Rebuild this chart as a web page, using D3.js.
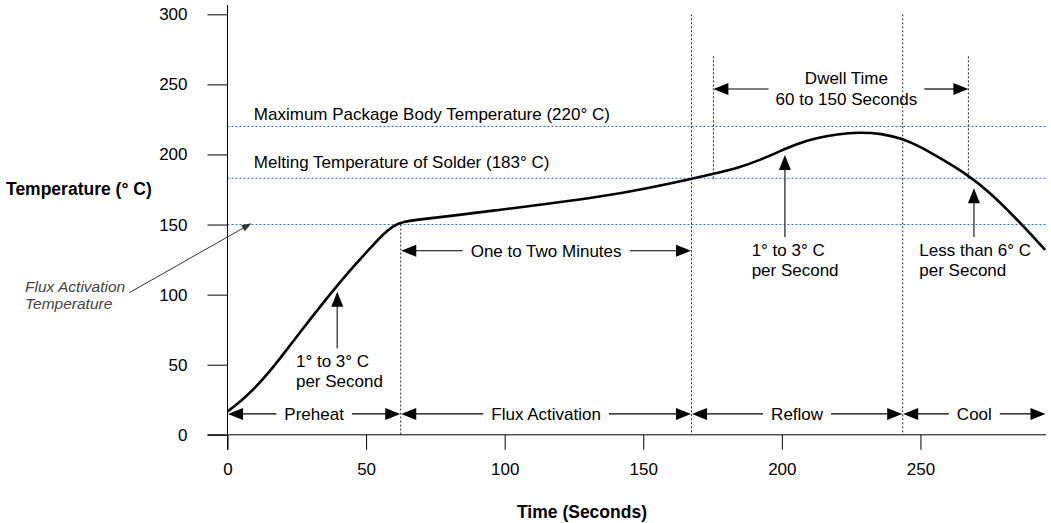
<!DOCTYPE html>
<html><head><meta charset="utf-8">
<script src="https://cdn.jsdelivr.net/npm/d3@7"></script>
<style>
body{margin:0;background:#fff}
svg{display:block}
text{font-family:"Liberation Sans",Arial,Helvetica,sans-serif;fill:#000}
</style>
</head><body>
<svg id="chart" width="1051" height="523"></svg>
<script>
// ---------- data ----------
const timeSec = [0, 5, 10, 15, 20, 27, 33, 40, 46, 52, 56, 60, 63, 70, 80, 98, 115, 135, 150, 167, 175, 185, 192, 199, 205, 212, 220, 228, 236, 243, 250, 258, 267, 275, 284, 295];
const tempC   = [16.6, 24.3, 33.5, 44.6, 57.2, 75.3, 90.4, 107.5, 121.3, 134.2, 143, 149.3, 152, 153.8, 156, 160.5, 164.6, 170, 175.3, 182.4, 186.0, 190.8, 196, 202, 207.3, 211.6, 214.6, 215.8, 214.9, 211.6, 205.6, 196.3, 185.6, 173, 155.5, 132];
const xTickValues = [0, 50, 100, 150, 200, 250];
const yTickValues = [0, 50, 100, 150, 200, 250, 300];
const refTemps  = [220, 183, 150];
const refLabels = ["Maximum Package Body Temperature (220° C)", "Melting Temperature of Solder (183° C)", ""];
const phaseBounds = [0, 62.5, 167.4, 243.6, 295.3];
const phaseNames  = ["Preheat", "Flux Activation", "Reflow", "Cool"];
const soakBounds  = [62.5, 167.4];
const soakLabel   = "One to Two Minutes";
const dwellBounds = [175.3, 267.3];
const dwellLabel  = ["Dwell Time", "60 to 150 Seconds"];
const rateNotes = [
  {t: 39.6,  tip: 102.1, base: 61.7,  textT: 24.7,  lines: ["1° to 3° C", "per Second"]},
  {t: 201.1, tip: 199.6, base: 141.1, textT: 189.1, lines: ["1° to 3° C", "per Second"]},
  {t: 269.3, tip: 175.9, base: 141.1, textT: 249.6, lines: ["Less than 6° C", "per Second"]}
];
const xTitle = "Time (Seconds)";
const yTitle = "Temperature (° C)";
const fluxNote = ["Flux Activation", "Temperature"];

// ---------- scales ----------
const svg = d3.select("#chart");
const x = d3.scaleLinear().domain([0, 295.3]).range([227.5, 1046]);
const y = d3.scaleLinear().domain([0, 300]).range([434.8, 14.3]);
const FS = 17;

// ---------- reference lines ----------
const blue = "#2f6fc6";
refTemps.forEach((v, i) => {
  svg.append("line").attr("x1", x(0)).attr("x2", x(295.3)).attr("y1", y(v)).attr("y2", y(v))
    .attr("stroke", blue).attr("stroke-width", 1.1).attr("stroke-dasharray", "2,2");
  if (refLabels[i]) {
    svg.append("text").attr("x", x(9.5)).attr("y", y(v) - (i === 0 ? 6 : 10))
      .attr("font-size", FS).text(refLabels[i]);
  }
});

// ---------- vertical dotted lines ----------
function vDotted(t, t0, t1) {
  svg.append("line").attr("x1", x(t)).attr("x2", x(t)).attr("y1", y(t0)).attr("y2", y(t1))
    .attr("stroke", "#222").attr("stroke-width", 1).attr("stroke-dasharray", "2,2");
}
vDotted(phaseBounds[1], 150, 0);
vDotted(phaseBounds[2], 300, 0);
vDotted(phaseBounds[3], 300, 0);
vDotted(dwellBounds[0], 270, 183);
vDotted(dwellBounds[1], 270, 183);

// ---------- axes ----------
const yAxis = d3.axisLeft(y).tickValues(yTickValues).tickSize(20).tickPadding(20);
const xAxis = d3.axisBottom(x).tickValues(xTickValues).tickSize(15).tickPadding(13);
const gy = svg.append("g").attr("transform", `translate(${x(0)},0)`).call(yAxis);
const gx = svg.append("g").attr("transform", `translate(0,${y(0)})`).call(xAxis);
[gx, gy].forEach(g => {
  g.select(".domain").remove();
  g.selectAll(".tick line").attr("stroke", "#000");
  g.selectAll(".tick text").attr("font-size", FS).attr("font-family", '"Liberation Sans",Arial,sans-serif').attr("fill", "#000");
});
svg.append("line").attr("x1", x(0)).attr("x2", x(0)).attr("y1", 5).attr("y2", y(0) + 15).attr("stroke", "#000");
svg.append("line").attr("x1", x(0) - 20).attr("x2", x(295.3)).attr("y1", y(0)).attr("y2", y(0)).attr("stroke", "#000");

// axis titles
svg.append("text").attr("x", 582).attr("y", 518).attr("text-anchor", "middle")
  .attr("font-size", 17.5).attr("font-weight", "bold").text(xTitle);
svg.append("text").attr("x", 6).attr("y", 195)
  .attr("font-size", 17.5).attr("font-weight", "bold").text(yTitle);

// ---------- curve ----------
const pts = timeSec.map((t, i) => [t, tempC[i]]);
svg.append("path").datum(pts)
  .attr("d", d3.line().x(d => x(d[0])).y(d => y(d[1])).curve(d3.curveBasis))
  .attr("fill", "none").attr("stroke", "#000").attr("stroke-width", 2.6);

// ---------- helpers ----------
const HL = 15, HW = 6;
function headH(tipX, yy, dir) {
  svg.append("path").attr("d",
    `M${tipX},${yy} L${tipX - dir * HL},${yy - HW} L${tipX - dir * HL},${yy + HW} Z`).attr("fill", "#000");
}
function headV(xx, tipY) {
  svg.append("path").attr("d",
    `M${xx},${tipY} L${xx - HW},${tipY + HL} L${xx + HW},${tipY + HL} Z`).attr("fill", "#000");
}
function dimArrow(t0, t1, temp, label) {
  const x0 = x(t0), x1 = x(t1), yy = y(temp);
  const mid = (x0 + x1) / 2;
  const txt = svg.append("text").attr("x", mid).attr("y", yy).attr("dy", "0.35em")
    .attr("text-anchor", "middle").attr("font-size", FS).text(label);
  const w = txt.node().getComputedTextLength();
  const gap = 8;
  svg.append("line").attr("x1", x0 + HL - 1).attr("x2", mid - w / 2 - gap).attr("y1", yy).attr("y2", yy)
    .attr("stroke", "#000").attr("stroke-width", 1.2);
  svg.append("line").attr("x1", mid + w / 2 + gap).attr("x2", x1 - HL + 1).attr("y1", yy).attr("y2", yy)
    .attr("stroke", "#000").attr("stroke-width", 1.2);
  headH(x0 + 0.5, yy, -1);
  headH(x1 - 0.5, yy, 1);
}

phaseNames.forEach((n, i) => dimArrow(phaseBounds[i], phaseBounds[i + 1], 14.9, n));
dimArrow(soakBounds[0], soakBounds[1], 131.3, soakLabel);

// dwell arrow
(function () {
  const x0 = x(dwellBounds[0]), x1 = x(dwellBounds[1]), yy = y(246.7);
  const cx = x(223.3);
  const t1 = svg.append("text").attr("x", cx).attr("y", yy - 5).attr("text-anchor", "middle")
    .attr("font-size", FS).text(dwellLabel[0]);
  const t2 = svg.append("text").attr("x", cx).attr("y", yy + 16).attr("text-anchor", "middle")
    .attr("font-size", FS).text(dwellLabel[1]);
  const w = Math.max(t1.node().getComputedTextLength(), t2.node().getComputedTextLength());
  svg.append("line").attr("x1", x0 + HL - 1).attr("x2", cx - w / 2 - 7).attr("y1", yy).attr("y2", yy)
    .attr("stroke", "#000").attr("stroke-width", 1.2);
  svg.append("line").attr("x1", cx + w / 2 + 7).attr("x2", x1 - HL + 1).attr("y1", yy).attr("y2", yy)
    .attr("stroke", "#000").attr("stroke-width", 1.2);
  headH(x0, yy, -1);
  headH(x1, yy, 1);
})();

// rate notes (vertical arrows)
rateNotes.forEach(n => {
  const xx = x(n.t), tipY = y(n.tip), baseY = y(n.base);
  svg.append("line").attr("x1", xx).attr("x2", xx).attr("y1", tipY + HL - 1).attr("y2", baseY)
    .attr("stroke", "#555").attr("stroke-width", 1.6);
  headV(xx, tipY);
  n.lines.forEach((l, k) => {
    svg.append("text").attr("x", x(n.textT)).attr("y", baseY + 19 + k * 20)
      .attr("font-size", FS).text(l);
  });
});

// flux activation temperature note
fluxNote.forEach((l, k) => {
  svg.append("text").attr("x", 25).attr("y", 291.7 + k * 17.6)
    .attr("font-size", 15.5).attr("font-style", "italic").style("fill", "#444").text(l);
});
(function () {
  const sx = 129.3, sy = 292.7, ex = x(8.7), ey = y(150.9);
  const ang = Math.atan2(ey - sy, ex - sx);
  const L = 10, W = 3.5;
  const bx = ex - L * Math.cos(ang), by = ey - L * Math.sin(ang);
  svg.append("line").attr("x1", sx).attr("y1", sy).attr("x2", bx).attr("y2", by)
    .attr("stroke", "#333").attr("stroke-width", 1);
  svg.append("path").attr("d",
    `M${ex},${ey} L${bx + W * Math.sin(ang)},${by - W * Math.cos(ang)} L${bx - W * Math.sin(ang)},${by + W * Math.cos(ang)} Z`)
    .attr("fill", "#333");
})();
</script>
</body></html>
